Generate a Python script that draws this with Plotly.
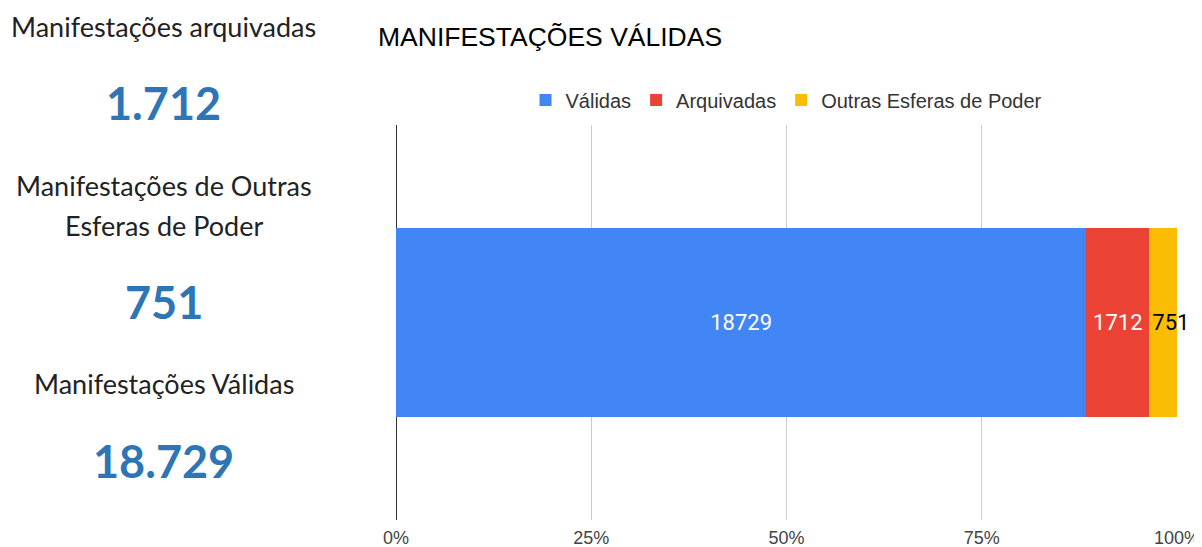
import plotly.graph_objects as go

categories = ["Manifestações"]
series_names = ["Válidas", "Arquivadas", "Outras Esferas de Poder"]
series_values = [18729, 1712, 751]
series_colors = ["#4285F4", "#EA4335", "#FBBC04"]
text_colors = ["#FFFFFF", "#FFFFFF", "#000000"]
text_anchors = ["middle", "middle", "start"]
tick_vals = [0, 25, 50, 75, 100]
tick_labels = ["0%", "25%", "50%", "75%", "100%"]

panel_labels = ["Manifestações arquivadas", "Manifestações de Outras<br>Esferas de Poder", "Manifestações Válidas"]
panel_values = [1712, 751, 18729]

OFF = 8  # page body margin offset
W, H = 1202, 547
ML, MT = 396 - OFF, 125 - OFF
MR = W - (1177 - OFF)
MB = H - (520 - OFF)
PW = W - ML - MR
PH = H - MT - MB

fig = go.Figure()
for name, val, col, tcol, anc in zip(series_names, series_values, series_colors, text_colors, text_anchors):
    fig.add_trace(go.Bar(
        y=categories, x=[val], name=name, orientation="h",
        marker=dict(color=col, line=dict(width=0)),
        text=[str(val)], textposition="inside", insidetextanchor=anc,
        constraintext="none", textangle=0, cliponaxis=False,
        textfont=dict(family="Roboto, Arial, sans-serif", size=22, color=tcol),
        hoverinfo="x+name",
    ))

def px_x(page_x):
    return (page_x - OFF - ML) / PW

def px_y(page_y):
    return (H - MB - (page_y - OFF)) / PH

def fmt(v):
    return f"{v:,}".replace(",", ".")

annotations = []
label_lines_y = [[26.5], [185, 225], [383]]
value_y = [103, 302, 461]
for lab, ys in zip(panel_labels, label_lines_y):
    for line, ly in zip(lab.split("<br>"), ys):
        annotations.append(dict(
            text=line, xref="paper", yref="paper", x=px_x(164), y=px_y(ly),
            xanchor="center", yanchor="middle", showarrow=False,
            font=dict(family="Lato, 'Open Sans', sans-serif", size=27, color="#222222"),
        ))
for v, vy in zip(panel_values, value_y):
    annotations.append(dict(
        text=f"<b>{fmt(v)}</b>", xref="paper", yref="paper", x=px_x(164), y=px_y(vy),
        xanchor="center", yanchor="middle", showarrow=False,
        font=dict(family="Lato, 'Open Sans', sans-serif", size=45, color="#2E75B6"),
    ))

fig.update_layout(
    width=W, height=H,
    margin=dict(l=ML, r=MR, t=MT, b=MB, autoexpand=False),
    barmode="stack", barnorm="percent", bargap=0.522,
    paper_bgcolor="white", plot_bgcolor="white",
    title=dict(text="MANIFESTAÇÕES VÁLIDAS", x=(378 - OFF) / W, xanchor="left",
               y=1 - (37 - OFF) / H, yanchor="middle", xref="container", yref="container",
               font=dict(family="Arial, 'Liberation Sans', sans-serif", size=26.5, color="#000000")),
    legend=dict(orientation="h", x=0.5, xanchor="center", y=px_y(100), yanchor="middle",
                font=dict(family="Arial, 'Liberation Sans', sans-serif", size=20, color="#333333"),
                itemsizing="constant", traceorder="normal"),
    xaxis=dict(range=[0, 100], tickvals=tick_vals, ticktext=tick_labels,
               showgrid=True, gridcolor="#CCCCCC", gridwidth=1,
               zeroline=True, zerolinecolor="#333333", zerolinewidth=1,
               showline=False, ticks="outside", ticklen=1, tickcolor="rgba(0,0,0,0)",
               tickfont=dict(family="Arial, 'Liberation Sans', sans-serif", size=18, color="#444444"),
               automargin=False, fixedrange=True),
    yaxis=dict(showticklabels=False, showgrid=False, zeroline=False, range=[-0.5, 0.5],
               automargin=False, fixedrange=True),
    annotations=annotations,
    showlegend=True,
)

fig.write_html("out.html")
